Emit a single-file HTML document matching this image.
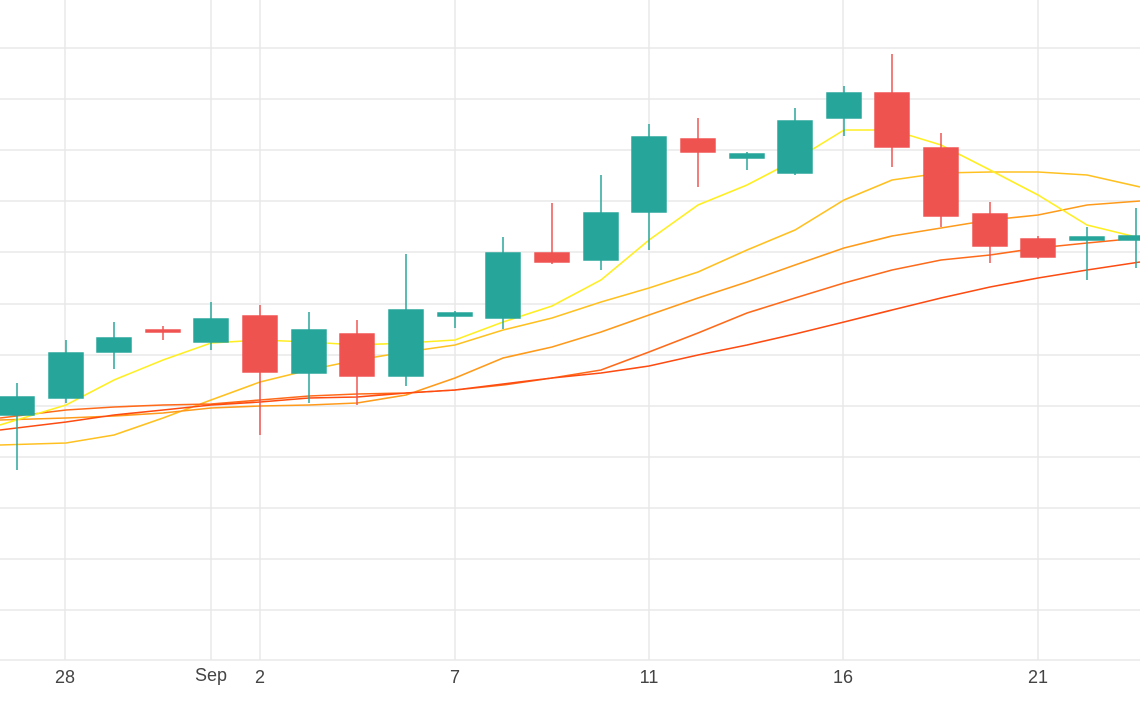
<!DOCTYPE html>
<html><head><meta charset="utf-8"><style>html,body{margin:0;padding:0;background:#fff}svg{display:block}</style></head>
<body>
<svg width="1140" height="710" xmlns="http://www.w3.org/2000/svg" font-family="Liberation Sans, sans-serif">
<g stroke="#e8e8e8" stroke-width="1.5">
<line x1="0" x2="1140" y1="48" y2="48"/><line x1="0" x2="1140" y1="99" y2="99"/><line x1="0" x2="1140" y1="150" y2="150"/><line x1="0" x2="1140" y1="201" y2="201"/><line x1="0" x2="1140" y1="252" y2="252"/><line x1="0" x2="1140" y1="304" y2="304"/><line x1="0" x2="1140" y1="355" y2="355"/><line x1="0" x2="1140" y1="406" y2="406"/><line x1="0" x2="1140" y1="457" y2="457"/><line x1="0" x2="1140" y1="508" y2="508"/><line x1="0" x2="1140" y1="559" y2="559"/><line x1="0" x2="1140" y1="610" y2="610"/><line x1="0" x2="1140" y1="660" y2="660"/>
<line x1="65" x2="65" y1="0" y2="660"/><line x1="211" x2="211" y1="0" y2="660"/><line x1="260" x2="260" y1="0" y2="660"/><line x1="455" x2="455" y1="0" y2="660"/><line x1="649" x2="649" y1="0" y2="660"/><line x1="843" x2="843" y1="0" y2="660"/><line x1="1038" x2="1038" y1="0" y2="660"/>
</g>
<g fill="#444" font-size="18" text-anchor="middle">
<text x="65" y="683">28</text><text x="211" y="681">Sep</text><text x="260" y="683">2</text><text x="455" y="683">7</text><text x="649" y="683">11</text><text x="843" y="683">16</text><text x="1038" y="683">21</text>
</g>
<g fill="none" stroke-width="1.6">
<polyline stroke="#ffc020" points="0,445 66,443 114,435 163,418 211,400 260,382 309,370 357,360 406,352 455,345 503,330 552,318 601,302 649,288 698,272 747,250 795,230 844,200 892,180 941,173 990,172 1038,172 1087,175 1140,187"/>
<polyline stroke="#ff9a1a" points="0,420 66,418 114,416 163,413 211,408 260,406 309,405 357,403 406,395 455,378 503,358 552,347 601,332 649,315 698,298 747,282 795,265 844,248 892,236 941,228 990,220 1038,215 1087,205 1140,201"/>
<polyline stroke="#ff6a1a" points="0,418 66,410 114,407 163,405 211,404 260,400 309,396 357,394 406,393 455,390 503,385 552,378 601,370 649,352 698,333 747,313 795,298 844,283 892,270 941,260 990,255 1038,248 1087,243 1140,238"/>
<polyline stroke="#ff4a10" points="0,430 66,422 114,415 163,410 211,405 260,402 309,398 357,397 406,393 455,390 503,384 552,378 601,373 649,366 698,355 747,345 795,334 844,322 892,310 941,298 990,287 1038,278 1087,270 1140,262"/>
<polyline stroke="#ffee22" points="0,425 66,405 114,380 163,360 211,343 260,340 309,342 357,345 406,343 455,340 503,322 552,306 601,280 649,240 698,205 747,185 795,160 844,130 892,130 941,145 990,170 1038,195 1087,225 1140,238"/>
</g>
<g stroke-width="1.5">
<g stroke="#26a69a" fill="#26a69a">
<line x1="17" x2="17" y1="383" y2="470"/><rect x="0" y="397" width="34" height="18"/>
<line x1="66" x2="66" y1="340" y2="403"/><rect x="49" y="353" width="34" height="45"/>
<line x1="114" x2="114" y1="322" y2="369"/><rect x="97" y="338" width="34" height="14"/>
<line x1="211" x2="211" y1="302" y2="350"/><rect x="194" y="319" width="34" height="23"/>
<line x1="309" x2="309" y1="312" y2="403"/><rect x="292" y="330" width="34" height="43"/>
<line x1="406" x2="406" y1="254" y2="386"/><rect x="389" y="310" width="34" height="66"/>
<line x1="455" x2="455" y1="311" y2="328"/><rect x="438" y="313" width="34" height="3"/>
<line x1="503" x2="503" y1="237" y2="329"/><rect x="486" y="253" width="34" height="65"/>
<line x1="601" x2="601" y1="175" y2="270"/><rect x="584" y="213" width="34" height="47"/>
<line x1="649" x2="649" y1="124" y2="250"/><rect x="632" y="137" width="34" height="75"/>
<line x1="747" x2="747" y1="152" y2="170"/><rect x="730" y="154" width="34" height="4"/>
<line x1="795" x2="795" y1="108" y2="175"/><rect x="778" y="121" width="34" height="52"/>
<line x1="844" x2="844" y1="86" y2="136"/><rect x="827" y="93" width="34" height="25"/>
<line x1="1087" x2="1087" y1="227" y2="280"/><rect x="1070" y="237" width="34" height="3"/>
<line x1="1136" x2="1136" y1="208" y2="268"/><rect x="1119" y="236" width="34" height="4"/>
</g>
<g stroke="#ef5350" fill="#ef5350">
<line x1="163" x2="163" y1="326" y2="340"/><rect x="146" y="330" width="34" height="2"/>
<line x1="260" x2="260" y1="305" y2="435"/><rect x="243" y="316" width="34" height="56"/>
<line x1="357" x2="357" y1="320" y2="405"/><rect x="340" y="334" width="34" height="42"/>
<line x1="552" x2="552" y1="203" y2="264"/><rect x="535" y="253" width="34" height="9"/>
<line x1="698" x2="698" y1="118" y2="187"/><rect x="681" y="139" width="34" height="13"/>
<line x1="892" x2="892" y1="54" y2="167"/><rect x="875" y="93" width="34" height="54"/>
<line x1="941" x2="941" y1="133" y2="227"/><rect x="924" y="148" width="34" height="68"/>
<line x1="990" x2="990" y1="202" y2="263"/><rect x="973" y="214" width="34" height="32"/>
<line x1="1038" x2="1038" y1="236" y2="259"/><rect x="1021" y="239" width="34" height="18"/>
</g>
</g>
</svg>
</body></html>
